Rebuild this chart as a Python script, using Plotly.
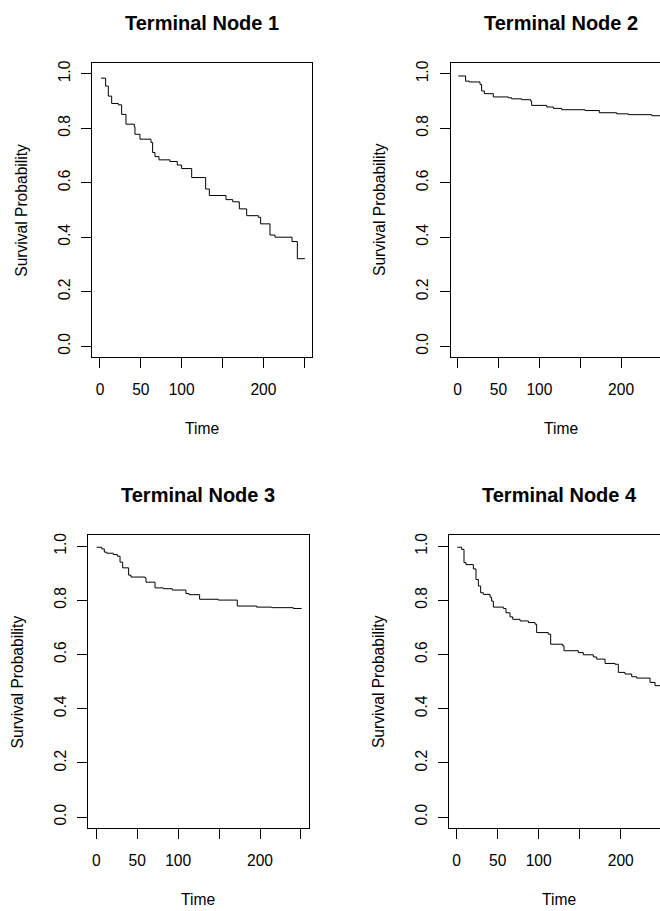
import plotly.graph_objects as go

# ---------------- data ----------------
node1_time = [1.2, 6.9, 10.2, 14.3, 22.4, 26.5, 31.8, 42.0, 42.8, 48.9, 62.4, 64.4, 67.3, 72.2,
              85.6, 94.6, 99.9, 112.2, 129.3, 133.8, 154.2, 162.4, 170.5, 179.5, 193.8, 196.6,
              208.0, 214.2, 235.0, 241.5, 250.8]
node1_surv = [0.984, 0.955, 0.918, 0.891, 0.886, 0.851, 0.815, 0.805, 0.778, 0.760, 0.748, 0.711,
              0.696, 0.684, 0.678, 0.665, 0.652, 0.619, 0.577, 0.553, 0.538, 0.530, 0.504, 0.479,
              0.473, 0.449, 0.408, 0.400, 0.384, 0.321, 0.321]

node2_time = [0.7, 9.7, 14.2, 27.3, 29.3, 32.6, 43.6, 62.0, 66.0, 78.3, 89.3, 90.5, 109.0,
              117.0, 127.3, 155.8, 173.4, 194.6, 208.9, 237.4, 250.0]
node2_surv = [0.992, 0.973, 0.970, 0.961, 0.937, 0.927, 0.915, 0.912, 0.908, 0.905, 0.900, 0.884,
              0.878, 0.873, 0.868, 0.865, 0.857, 0.853, 0.850, 0.846, 0.846]

node3_time = [0.4, 6.6, 9.8, 12.7, 20.8, 25.7, 29.0, 32.2, 39.5, 42.4, 59.5, 60.7, 71.7, 81.9,
              92.8, 109.5, 113.2, 126.2, 149.0, 172.2, 195.8, 214.2, 240.6, 250.8]
node3_surv = [0.996, 0.990, 0.978, 0.974, 0.969, 0.963, 0.941, 0.920, 0.893, 0.886, 0.883, 0.867,
              0.846, 0.843, 0.838, 0.825, 0.821, 0.804, 0.801, 0.779, 0.775, 0.773, 0.770, 0.770]

node4_time = [0.8, 6.1, 8.9, 11.3, 20.3, 23.5, 26.4, 29.2, 32.5, 40.6, 42.6, 44.7, 56.9, 60.1,
              65.0, 68.3, 77.2, 87.4, 95.5, 97.5, 111.7, 114.6, 129.2, 130.8, 148.3, 154.4, 166.6,
              170.7, 180.9, 193.1, 197.1, 205.2, 213.4, 219.5, 235.7, 241.8, 250.0]
node4_surv = [0.996, 0.988, 0.939, 0.932, 0.916, 0.877, 0.853, 0.828, 0.822, 0.812, 0.797, 0.775,
              0.770, 0.754, 0.739, 0.730, 0.724, 0.718, 0.712, 0.681, 0.675, 0.638, 0.632, 0.614,
              0.607, 0.599, 0.591, 0.583, 0.567, 0.564, 0.534, 0.528, 0.518, 0.513, 0.497, 0.485,
              0.485]

titles = ["Terminal Node 1", "Terminal Node 2", "Terminal Node 3", "Terminal Node 4"]
x_ticks = [0, 50, 100, 150, 200, 250]
x_ticktext = ["0", "50", "100", "", "200", ""]
y_ticks = [0.0, 0.2, 0.4, 0.6, 0.8, 1.0]
y_ticktext = ["0.0", "0.2", "0.4", "0.6", "0.8", "1.0"]
x_label = "Time"
y_label = "Survival Probability"

# ---------------- layout geometry (pixels in the 660x911 window) ----------------
W, H = 660, 911
FONT = "Liberation Sans, Arial, sans-serif"
FS = 15.6

panels = [
    dict(l=92.3, r=312.3, t=60.1, b=355.2, xr=[-9.4, 259.8], full=True),
    dict(l=450.5, r=660.0, t=60.1, b=355.2, xr=[-8.8, 247.6], full=False),
    dict(l=88.3, r=309.0, t=534.1, b=827.6, xr=[-9.77, 259.8], full=True),
    dict(l=449.0, r=660.0, t=534.1, b=827.6, xr=[-9.4, 247.9], full=False),
]
series = [(node1_time, node1_surv), (node2_time, node2_surv),
          (node3_time, node3_surv), (node4_time, node4_surv)]


def fx(px):
    return px / W


def fy(py):
    return 1 - py / H


fig = go.Figure()
annotations = []
layout = {}
for i, (p, (tx, sy)) in enumerate(zip(panels, series)):
    n = "" if i == 0 else str(i + 1)
    fig.add_trace(go.Scatter(x=tx, y=sy, mode="lines", line=dict(color="black", width=1, shape="hv"),
                             xaxis="x" + n, yaxis="y" + n, showlegend=False, hoverinfo="x+y"))
    layout["xaxis" + n] = dict(
        domain=[fx(p["l"]), min(fx(p["r"]), 1.0)], range=p["xr"], anchor="y" + n,
        tickvals=x_ticks, ticktext=x_ticktext, ticks="outside", ticklen=10, tickwidth=1,
        tickcolor="black", showline=True, linecolor="black", linewidth=1, mirror=True,
        showgrid=False, zeroline=False, ticklabelstandoff=8,
        tickfont=dict(family=FONT, size=FS, color="black"))
    layout["yaxis" + n] = dict(
        domain=[fy(p["b"]), fy(p["t"])], range=[-0.04, 1.04], anchor="x" + n,
        tickvals=y_ticks, ticktext=y_ticktext, ticks="outside", ticklen=10, tickwidth=1,
        tickcolor="black", showline=True, linecolor="black", linewidth=1,
        mirror=p["full"], showgrid=False, zeroline=False, tickangle=-90, ticklabelstandoff=5,
        tickfont=dict(family=FONT, size=FS, color="black"))
    box_w = 220.0
    cx = p["l"] + box_w / 2
    cy = (p["t"] + p["b"]) / 2
    annotations.append(dict(text="<b>" + titles[i] + "</b>", x=fx(cx), y=fy(p["t"] - 40.5),
                            xref="paper", yref="paper", showarrow=False, xanchor="center",
                            yanchor="middle", font=dict(family=FONT, size=20, color="black")))
    annotations.append(dict(text=x_label, x=fx(cx), y=fy(p["b"] + 72), xref="paper",
                            yref="paper", showarrow=False, xanchor="center", yanchor="middle",
                            font=dict(family=FONT, size=FS, color="black")))
    annotations.append(dict(text=y_label, x=fx(p["l"] - 70.5), y=fy(cy), xref="paper",
                            yref="paper", showarrow=False, xanchor="center", yanchor="middle",
                            textangle=-90, font=dict(family=FONT, size=FS, color="black")))

fig.update_layout(
    width=W, height=H, autosize=False,
    margin=dict(l=0, r=0, t=0, b=0),
    paper_bgcolor="white", plot_bgcolor="white",
    annotations=annotations, **layout)

# place the fixed-size figure flush with the window corner (no default page margin)
fig.write_html("out.html", config={"displayModeBar": False},
               post_script="document.body.style.margin='0';document.body.style.overflow='hidden';")
